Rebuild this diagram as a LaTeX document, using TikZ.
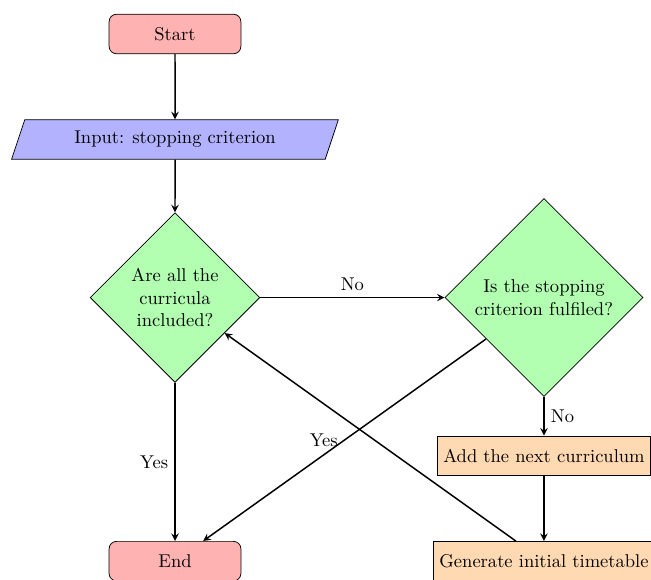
\documentclass[tikz,border=0pt]{standalone}
\usetikzlibrary{shapes.geometric}
\begin{document}
\begin{tikzpicture}[
    startstop/.style={rectangle,rounded corners,minimum width=2.5cm,minimum height=0.75cm,draw=black,fill=red!30},
    io/.style={trapezium,trapezium left angle=72,trapezium right angle=108,trapezium stretches=true,minimum width=6.2cm,minimum height=0.75cm,draw=black,fill=blue!30},
    decision/.style={diamond,align=center,draw=black,fill=green!30},
    process/.style={rectangle,minimum height=0.75cm,draw=black,fill=orange!30},
    arrow/.style={thick,->,>=stealth}]
    \useasboundingbox (-3.32,0.645) rectangle (9.03,-10.34);
    \node[startstop] (start) at (0,0) {Start};
    \node[io] (in1) at (0,-2) {Input: stopping criterion};
    \node[decision] (dec1) at (0,-5) {Are all the\\curricula\\included?};
    \node[decision] (dec2) at (7,-5) {Is the stopping\\criterion fulfiled?};
    \node[process] (pro1) at (7,-8) {Add the next curriculum};
    \node[process] (pro2) at (7,-10) {Generate initial timetable};
    \node[startstop] (stop) at (0,-10) {End};
    \draw[arrow] (start) -- (in1);
    \draw[arrow] (in1) -- (dec1);
    \draw[arrow] (dec1) -- node[above] {No} (dec2);
    \draw[arrow] (dec1) -- node[left] {Yes} (stop);
    \draw[arrow] (dec2) -- node[left] {Yes} (stop);
    \draw[arrow] (dec2) -- node[right] {No} (pro1);
    \draw[arrow] (pro1) -- (pro2);
    \draw[arrow] (pro2) -- (dec1);
\end{tikzpicture}
\end{document}
